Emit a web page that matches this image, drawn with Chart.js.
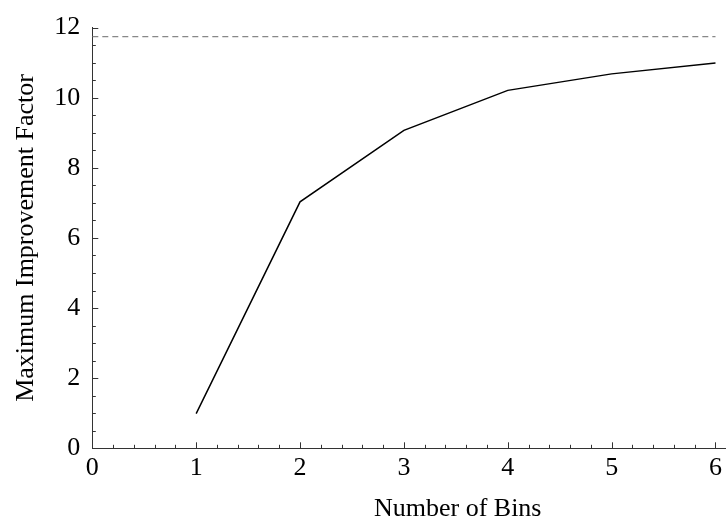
<!DOCTYPE html>
<html>
<head>
<meta charset="utf-8">
<script src="https://cdn.jsdelivr.net/npm/chart.js@4"></script>
<style>
  html, body { margin: 0; padding: 0; background: #fff; }
  #c { display: block; }
</style>
</head>
<body>
<canvas id="c" width="726" height="523"></canvas>
<script>
// Data
const bins = [1, 2, 3, 4, 5, 6];
const improvement = [0.99, 7.03, 9.07, 10.21, 10.68, 10.99];
const limitX = [0, 6];
const limitY = [11.74, 11.74];
const xTickValues = [0, 1, 2, 3, 4, 5, 6];
const yTickValues = [0, 2, 4, 6, 8, 10, 12];
const xMinorStep = 0.2;
const yMinorStep = 0.5;
const xTitle = 'Number of Bins';
const yTitle = 'Maximum Improvement Factor';

const FONT = "'Liberation Serif', 'Times New Roman', serif";

const innerTicks = {
  id: 'innerTicks',
  afterDraw(chart) {
    const ctx = chart.ctx;
    const xs = chart.scales.x, ys = chart.scales.y;
    const x0 = xs.getPixelForValue(0);
    const y0 = ys.getPixelForValue(0);
    ctx.save();
    ctx.strokeStyle = '#333';
    ctx.lineWidth = 1;
    ctx.beginPath();
    for (let i = 0; i <= Math.round(6 / xMinorStep); i++) {
      const v = i * xMinorStep;
      const major = Math.abs(v - Math.round(v)) < 1e-6;
      const px = Math.round(xs.getPixelForValue(v)) + 0.5;
      ctx.moveTo(px, y0);
      ctx.lineTo(px, y0 - (major ? 6 : 3.5));
    }
    for (let i = 0; i <= Math.round(12 / yMinorStep); i++) {
      const v = i * yMinorStep;
      const major = Math.abs(v / 2 - Math.round(v / 2)) < 1e-6;
      const py = Math.round(ys.getPixelForValue(v)) + 0.5;
      ctx.moveTo(x0, py);
      ctx.lineTo(x0 + (major ? 6 : 3.5), py);
    }
    ctx.stroke();
    // x axis title (offset to the right as in the reference)
    ctx.fillStyle = '#000';
    ctx.font = '26px ' + FONT;
    ctx.textAlign = 'center';
    ctx.textBaseline = 'alphabetic';
    ctx.fillText(xTitle, 457.7, 516);
    ctx.restore();
  }
};

new Chart(document.getElementById('c'), {
  type: 'scatter',
  data: {
    datasets: [
      {
        data: limitX.map((x, i) => ({ x, y: limitY[i] })),
        showLine: true,
        borderColor: '#888',
        borderWidth: 1.2,
        borderDash: [6, 4],
        pointRadius: 0,
        tension: 0
      },
      {
        data: bins.map((x, i) => ({ x, y: improvement[i] })),
        showLine: true,
        borderColor: '#000',
        borderWidth: 1.5,
        pointRadius: 0,
        tension: 0
      }
    ]
  },
  options: {
    responsive: false,
    animation: false,
    layout: { padding: { left: 0, right: 0, top: 19, bottom: 0 } },
    plugins: { legend: { display: false }, tooltip: { enabled: false } },
    scales: {
      x: {
        type: 'linear',
        min: 0,
        max: 6.1,
        afterBuildTicks(s) { s.ticks = xTickValues.map(v => ({ value: v })); },
        afterFit(s) { s.height = 74.7; },
        grid: { display: false, drawTicks: false },
        border: { display: true, color: '#333', width: 1 },
        ticks: { color: '#000', font: { family: FONT, size: 26 }, padding: 4, maxRotation: 0, autoSkip: false },
        title: { display: false }
      },
      y: {
        type: 'linear',
        min: 0,
        max: 12,
        afterBuildTicks(s) { s.ticks = yTickValues.map(v => ({ value: v })); },
        afterFit(s) { s.width = 92.3; },
        grid: { display: false, drawTicks: false },
        border: { display: true, color: '#333', width: 1 },
        ticks: { color: '#000', font: { family: FONT, size: 26 }, padding: 12, autoSkip: false },
        title: { display: true, text: yTitle, color: '#000', font: { family: FONT, size: 26 }, padding: { top: 11, bottom: 0 } }
      }
    }
  },
  plugins: [innerTicks]
});
</script>
</body>
</html>
